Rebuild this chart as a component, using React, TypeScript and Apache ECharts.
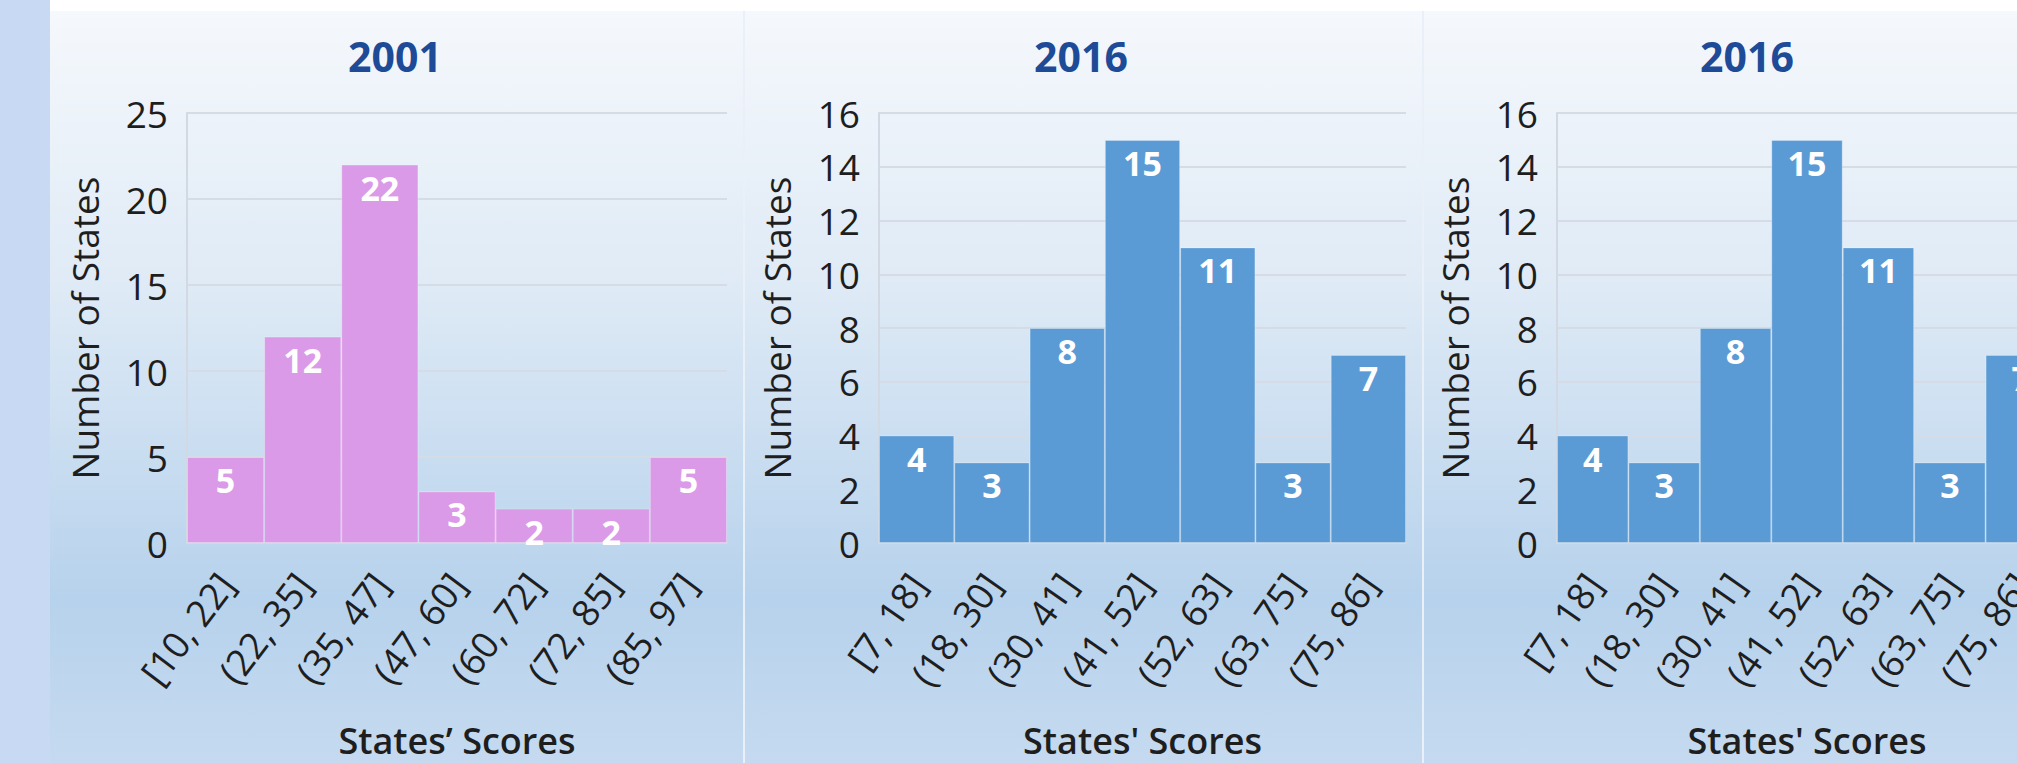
import React, { useEffect, useRef } from "react";
import * as echarts from "echarts";

// ---- data ----
const titles = ["2001", "2016", "2016"];
const cats2001 = ["[10, 22]", "(22, 35]", "(35, 47]", "(47, 60]", "(60, 72]", "(72, 85]", "(85, 97]"];
const counts2001 = [5, 12, 22, 3, 2, 2, 5];
const cats2016 = ["[7, 18]", "(18, 30]", "(30, 41]", "(41, 52]", "(52, 63]", "(63, 75]", "(75, 86]"];
const counts2016 = [4, 3, 8, 15, 11, 3, 7];
const xNames = ["States\u2019 Scores", "States' Scores", "States' Scores"];
const yName = "Number of States";
const yMax = [25, 16, 16];
const yStep = [5, 2, 2];

const FONT = "'Open Sans', 'Noto Sans', sans-serif";
const W = 2120;
const H = 763;

export default function App() {
  const ref = useRef<HTMLDivElement>(null);
  useEffect(() => {
    if (!ref.current) return;
    const chart = echarts.init(ref.current, null, { renderer: "svg" });

    const panels = [
      { cats: cats2001, vals: counts2001, color: "#db9ae7", left: 187, width: 540, titleX: 395, rot: 53 },
      { cats: cats2016, vals: counts2016, color: "#5b9bd5", left: 879, width: 527, titleX: 1081, rot: 55 },
      { cats: cats2016, vals: counts2016, color: "#5b9bd5", left: 1557, width: 500, titleX: 1747, rot: 55 },
    ];
    const top = 113;
    const height = 434;

    const panelGrad = () =>
      new echarts.graphic.LinearGradient(0, 0, 0, 1, [
        { offset: 0, color: "#f5f8fc" },
        { offset: 0.35, color: "#e0ebf6" },
        { offset: 0.78, color: "#b7d2ec" },
        { offset: 1, color: "#c5daf0" },
      ]);

    const option: any = {
      animation: false,
      backgroundColor: "#ffffff",
      textStyle: { fontFamily: FONT },
      graphic: [
        { type: "rect", z: -20, shape: { x: 0, y: 0, width: 50, height: H }, style: { fill: "#c7d9f3" } },
        { type: "rect", z: -20, shape: { x: 50, y: 11, width: W - 50, height: H - 11 }, style: { fill: "#e9f0f8" } },
        { type: "rect", z: -19, shape: { x: 50, y: 11, width: 693, height: H - 11 }, style: { fill: panelGrad() } },
        { type: "rect", z: -19, shape: { x: 745, y: 11, width: 677, height: H - 11 }, style: { fill: panelGrad() } },
        { type: "rect", z: -19, shape: { x: 1424, y: 11, width: W - 1424, height: H - 11 }, style: { fill: panelGrad() } },
      ],
      title: panels.map((p, i) => ({
        text: titles[i],
        left: p.titleX,
        top: 35,
        padding: 0,
        textAlign: "center",
        textStyle: { fontFamily: FONT, fontWeight: "bold", fontSize: 41, color: "#1d4b98" },
      })),
      grid: panels.map((p) => ({ left: p.left, top, width: p.width, height, containLabel: false })),
      xAxis: panels.map((p, i) => ({
        type: "category",
        gridIndex: i,
        data: p.cats,
        name: xNames[i],
        nameLocation: "middle",
        nameGap: 180,
        nameTextStyle: { fontFamily: FONT, fontSize: 36, lineHeight: 34, fontWeight: 600, color: "#1e1e1e" },
        axisLine: { show: true, lineStyle: { color: "#d2d9e2", width: 2 } },
        axisTick: { show: false },
        axisLabel: {
          interval: 0,
          rotate: p.rot,
          margin: 34,
          fontFamily: FONT,
          fontSize: 37,
          color: "#1e1e1e",
        },
      })),
      yAxis: panels.map((p, i) => ({
        type: "value",
        gridIndex: i,
        min: 0,
        max: yMax[i],
        interval: yStep[i],
        name: yName,
        nameLocation: "middle",
        nameGap: 84,
        nameTextStyle: { fontFamily: FONT, fontSize: 37, color: "#1e1e1e" },
        axisLine: { show: true, lineStyle: { color: "#d2d9e2", width: 2 } },
        axisTick: { show: false },
        axisLabel: { margin: 19, fontFamily: FONT, fontSize: 37, color: "#1e1e1e" },
        splitLine: { show: true, lineStyle: { color: "#d5dce5", width: 2 } },
      })),
      series: panels.map((p, i) => ({
        type: "bar",
        xAxisIndex: i,
        yAxisIndex: i,
        data: p.vals,
        barCategoryGap: "0%",
        itemStyle: { color: p.color, borderColor: "rgba(255,255,255,0.28)", borderWidth: 1 },
        label: {
          show: true,
          position: "insideTop",
          distance: 6,
          color: "#ffffff",
          fontFamily: FONT,
          fontWeight: "bold",
          fontSize: 34,
        },
      })),
    };

    chart.setOption(option);
    return () => chart.dispose();
  }, []);

  return (
    <div style={{ position: "fixed", left: 0, top: 0, width: 2017, height: H, overflow: "hidden" }}>
      <div ref={ref} style={{ width: W, height: H }} />
    </div>
  );
}
